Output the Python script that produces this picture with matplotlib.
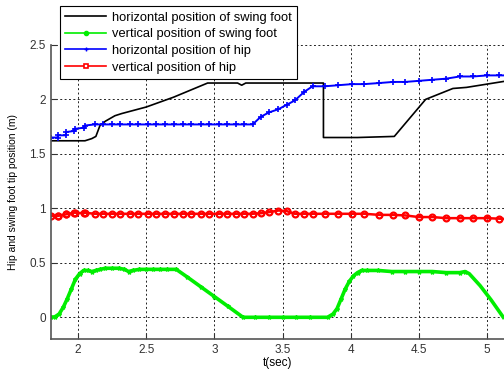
import matplotlib.pyplot as plt
from matplotlib.lines import Line2D

# swing foot, horizontal position (black)
t_foot_x = [1.80, 2.05, 2.10, 2.13, 2.16, 2.20, 2.27, 2.32, 2.50, 2.70, 2.95, 3.10,
            3.17, 3.20, 3.23, 3.80, 3.80, 4.05, 4.32, 4.55, 4.75, 4.85, 5.15]
foot_x = [1.62, 1.62, 1.64, 1.66, 1.76, 1.80, 1.85, 1.87, 1.93, 2.02, 2.15, 2.15,
          2.15, 2.13, 2.15, 2.15, 1.65, 1.65, 1.66, 2.00, 2.10, 2.11, 2.17]

# swing foot, vertical position (green)
t_foot_z = [1.80, 1.83, 1.86, 1.89, 1.92, 1.95, 1.98, 2.01, 2.04, 2.07, 2.10, 2.13,
            2.16, 2.20, 2.25, 2.30, 2.34, 2.37, 2.40, 2.45, 2.50, 2.55, 2.60, 2.65,
            2.72, 2.80, 2.90, 3.00, 3.10, 3.21, 3.30, 3.40, 3.50, 3.60, 3.70, 3.83,
            3.87, 3.90, 3.93, 3.96, 3.99, 4.02, 4.05, 4.08, 4.12, 4.20, 4.30, 4.40,
            4.50, 4.60, 4.70, 4.80, 4.84, 4.87, 4.95, 5.03, 5.12]
foot_z = [0.00, 0.005, 0.03, 0.09, 0.17, 0.26, 0.35, 0.40, 0.43, 0.43, 0.42, 0.43,
          0.44, 0.45, 0.45, 0.45, 0.44, 0.42, 0.43, 0.44, 0.44, 0.44, 0.44, 0.44,
          0.44, 0.37, 0.28, 0.19, 0.10, 0.00, 0.00, 0.00, 0.00, 0.00, 0.00, 0.00,
          0.03, 0.08, 0.17, 0.26, 0.33, 0.38, 0.41, 0.43, 0.43, 0.43, 0.42, 0.42,
          0.42, 0.42, 0.41, 0.41, 0.42, 0.40, 0.29, 0.16, 0.00]

# hip samples (blue / red)
t_hip = [1.80, 1.85, 1.85, 1.91, 1.91, 1.97, 1.98, 2.04, 2.05, 2.12, 2.18, 2.25,
         2.31, 2.38, 2.44, 2.51, 2.57, 2.64, 2.70, 2.77, 2.83, 2.90, 2.96, 3.03,
         3.09, 3.16, 3.22, 3.28, 3.34, 3.40, 3.47, 3.53, 3.59, 3.66, 3.72, 3.81,
         3.91, 4.01, 4.10, 4.21, 4.31, 4.40, 4.50, 4.60, 4.70, 4.80, 4.90, 5.00,
         5.09, 5.19]
hip_x = [1.65, 1.65, 1.67, 1.67, 1.70, 1.71, 1.73, 1.74, 1.76, 1.77, 1.77, 1.77,
         1.77, 1.77, 1.77, 1.77, 1.77, 1.77, 1.77, 1.77, 1.77, 1.77, 1.77, 1.77,
         1.77, 1.77, 1.77, 1.77, 1.84, 1.88, 1.91, 1.95, 1.99, 2.07, 2.12, 2.12,
         2.13, 2.14, 2.14, 2.15, 2.16, 2.16, 2.17, 2.18, 2.19, 2.21, 2.21, 2.22,
         2.22, 2.22]
hip_z = [0.93, 0.93, 0.93, 0.945, 0.945, 0.96, 0.96, 0.955, 0.96, 0.95, 0.95, 0.95,
         0.95, 0.95, 0.95, 0.95, 0.95, 0.95, 0.95, 0.95, 0.95, 0.95, 0.95, 0.95,
         0.95, 0.95, 0.95, 0.95, 0.955, 0.965, 0.98, 0.975, 0.95, 0.95, 0.95, 0.95,
         0.95, 0.95, 0.95, 0.94, 0.94, 0.935, 0.92, 0.92, 0.91, 0.91, 0.91, 0.91,
         0.905, 0.90]

legend_labels = ["horizontal position of swing foot", "vertical position of swing foot",
                 "horizontal position of hip", "vertical position of hip"]

plt.rcParams["font.family"] = ["Liberation Sans", "DejaVu Sans"]

fig = plt.figure(figsize=(5.04, 3.71), dpi=100)
ax = fig.add_axes([0.101, 0.086, 0.899, 0.793])

ax.plot(t_foot_x, foot_x, color="black", lw=1.2)
ax.plot(t_foot_z, foot_z, color="#00ee00", lw=2.6, marker="*", ms=3,
        markevery=slice(0, 53))
ax.plot(t_hip, hip_x, color="blue", lw=1.4, marker="+", ms=4, mew=1.2)
ax.plot(t_hip, hip_z, color="red", lw=1.8, marker="o", ms=4.2, mfc="none", mew=1.6)

ax.set_xlim(1.8, 5.125)
ax.set_ylim(-0.2, 2.5)
ax.set_xticks([2, 2.5, 3, 3.5, 4, 4.5, 5])
ax.set_xticklabels(["2", "2.5", "3", "3.5", "4", "4.5", "5"])
ax.set_yticks([0, 0.5, 1, 1.5, 2, 2.5])
ax.set_yticklabels(["0", "0.5", "1", "1.5", "2", "2.5"])
ax.tick_params(direction="in", length=4, labelsize=8.5, colors="#333333", width=0.8)
ax.grid(True, color="#222222", linestyle=(0, (2, 2.5)), linewidth=0.7)
for s in ["top", "right"]:
    ax.spines[s].set_visible(False)
for s in ["left", "bottom"]:
    ax.spines[s].set_color("#555555")
    ax.spines[s].set_linewidth(1.2)

ax.set_xlabel("t(sec)", fontsize=8.5, labelpad=1)
ax.set_ylabel("Hip and swing foot tip position (m)", fontsize=7.5, labelpad=8)

# thin proxy lines for the legend, like the original
handles = [
    Line2D([], [], color="black", lw=1.2),
    Line2D([], [], color="#00ee00", lw=1.2, marker="o", ms=3),
    Line2D([], [], color="blue", lw=1.2, marker="+", ms=3, mew=1),
    Line2D([], [], color="red", lw=1.2, marker="s", ms=3.5, mfc="white", mew=1.2),
]
leg = fig.legend(handles, legend_labels,
                 loc="upper left", bbox_to_anchor=(0.119, 0.983), fontsize=9.3,
                 frameon=True, fancybox=False, handlelength=3.2, handletextpad=0.4,
                 labelspacing=0.36, borderpad=0.4, borderaxespad=0)
leg.get_frame().set_edgecolor("black")
leg.get_frame().set_linewidth(0.8)
leg.get_frame().set_alpha(1)

fig.savefig("out.png", dpi=100)
